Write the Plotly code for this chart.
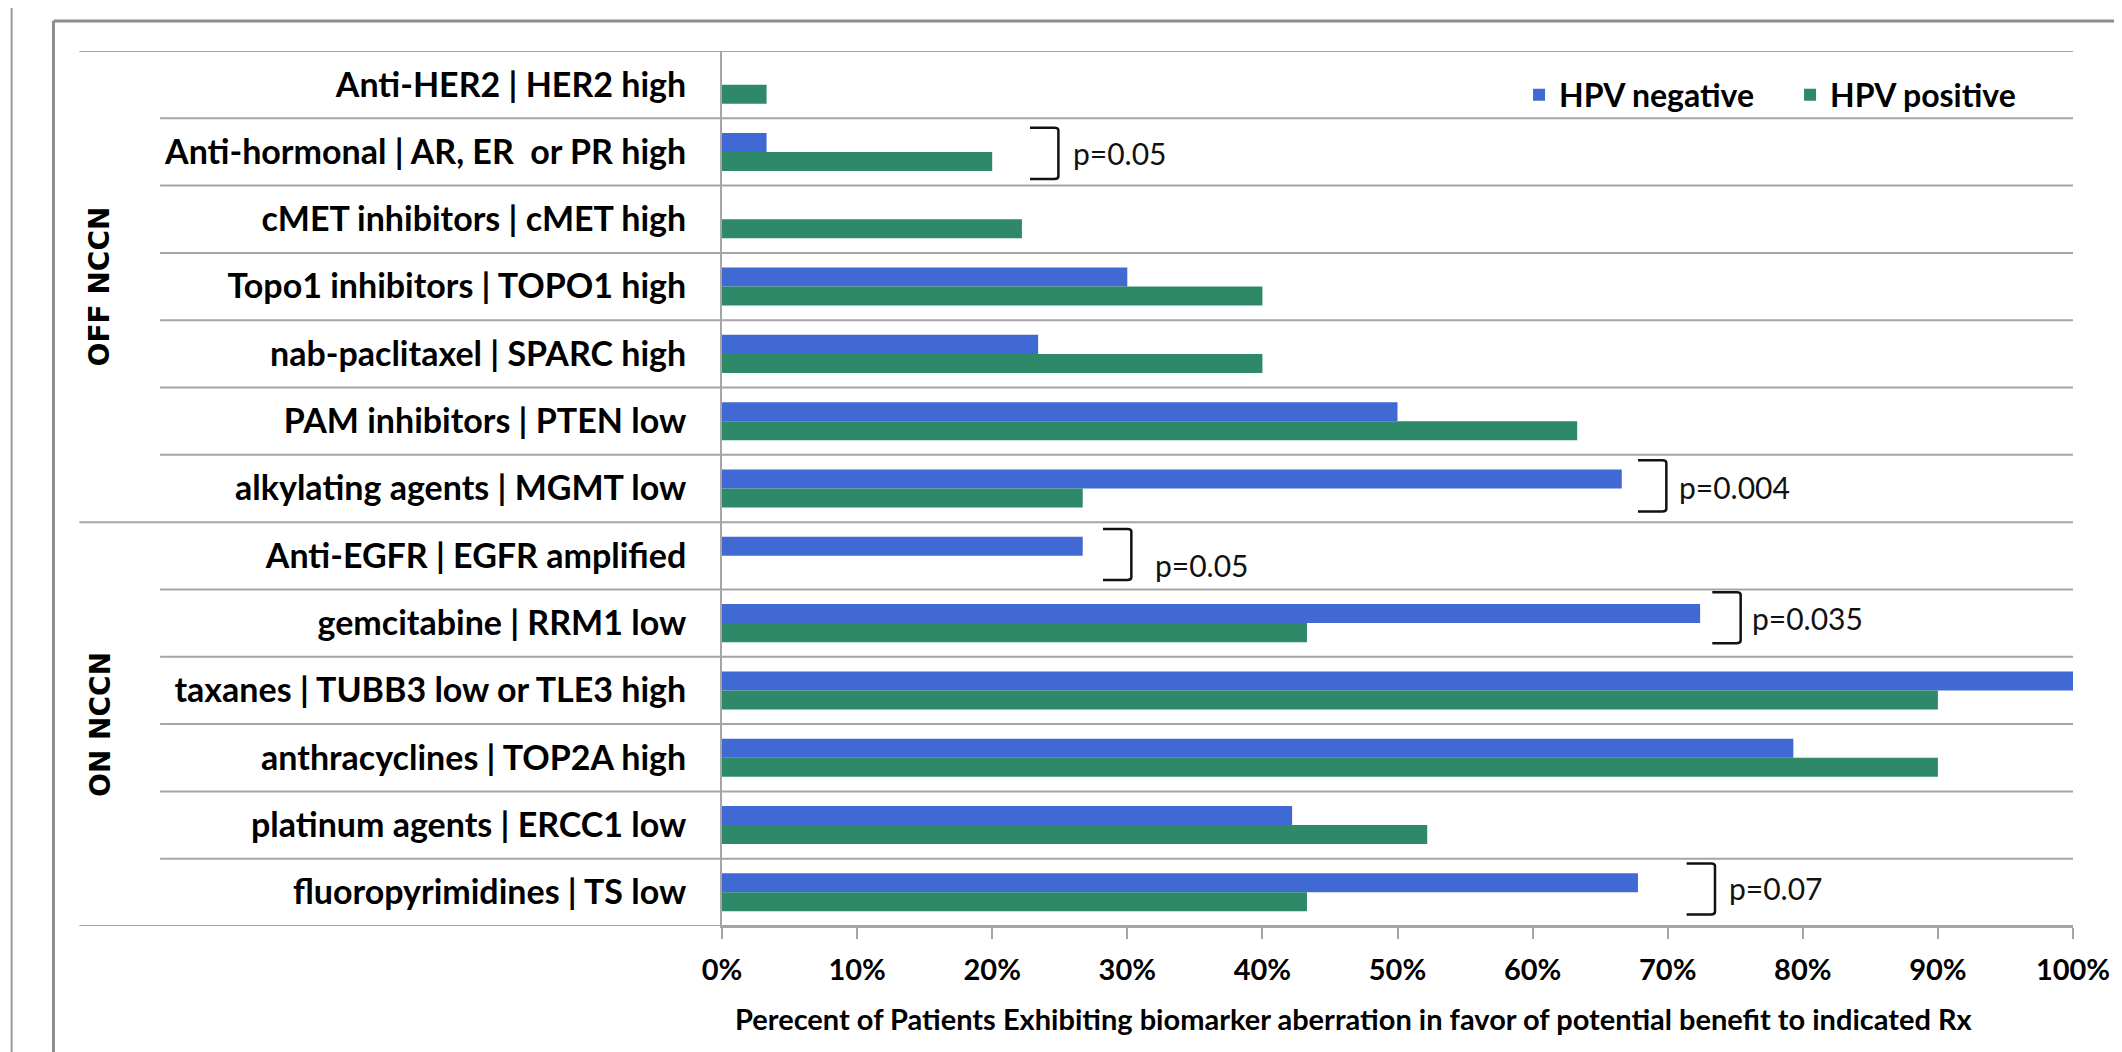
import plotly.graph_objects as go

# ---------------- data ----------------
categories = [
    "Anti-HER2 | HER2 high",
    "Anti-hormonal | AR, ER  or PR high",
    "cMET inhibitors | cMET high",
    "Topo1 inhibitors | TOPO1 high",
    "nab-paclitaxel | SPARC high",
    "PAM inhibitors | PTEN low",
    "alkylating agents | MGMT low",
    "Anti-EGFR | EGFR amplified",
    "gemcitabine | RRM1 low",
    "taxanes | TUBB3 low or TLE3 high",
    "anthracyclines | TOP2A high",
    "platinum agents | ERCC1 low",
    "fluoropyrimidines | TS low",
]
hpv_negative = [0, 3.3, 0, 30.0, 23.4, 50.0, 66.6, 26.7, 72.4, 100.0, 79.3, 42.2, 67.8]
hpv_positive = [3.3, 20.0, 22.2, 40.0, 40.0, 63.3, 26.7, 0, 43.3, 90.0, 90.0, 52.2, 43.3]
x_ticks = [0, 10, 20, 30, 40, 50, 60, 70, 80, 90, 100]
x_tick_labels = ["0%", "10%", "20%", "30%", "40%", "50%", "60%", "70%", "80%", "90%", "100%"]

groups = ["OFF NCCN", "ON NCCN"]
group_first = [0, 7]
group_last = [6, 12]

pval_rows = ["Anti-hormonal | AR, ER  or PR high", "alkylating agents | MGMT low",
             "Anti-EGFR | EGFR amplified", "gemcitabine | RRM1 low", "fluoropyrimidines | TS low"]
pval_labels = ["p=0.05", "p=0.004", "p=0.05", "p=0.035", "p=0.07"]

# annotation placement (layout only)
bracket_left = [22.8, 67.8, 28.2, 73.3, 71.4]
bracket_dy = [0.02, -0.04, -0.02, -0.08, -0.05]
text_left = [25.8, 70.7, 31.9, 76.1, 74.4]
text_dy = [0.02, -0.02, 0.13, -0.08, -0.06]

BLUE = "#4169D3"
GREEN = "#2E8968"
GRID = "#A5A5A5"

# page geometry (browser body has an 8px margin)
BODY = 8
W, H = 2122 - BODY, 1052 - BODY
L, R, T, B = 722, 2078, 51, 926     # plot area in page pixels
PW, PH = R - L, B - T

def px_to_paper(px):
    return (px - L) / PW

def py_to_paper(py):
    return 1 - (py - T) / PH

fig = go.Figure()
fig.add_trace(go.Bar(y=categories, x=hpv_negative, orientation="h", name="HPV negative",
                     marker=dict(color=BLUE, line=dict(width=0))))
fig.add_trace(go.Bar(y=categories, x=hpv_positive, orientation="h", name="HPV positive",
                     marker=dict(color=GREEN, line=dict(width=0))))

shapes = []
n = len(categories)
group_bounds = set([g - 0.5 for g in group_first] + [n - 0.5])
for k in range(n + 1):
    yb = k - 0.5
    x0 = px_to_paper(77) if yb in group_bounds else px_to_paper(158)
    shapes.append(dict(type="line", xref="paper", yref="y", x0=x0, x1=1.0, y0=yb, y1=yb,
                       line=dict(color=GRID, width=2), layer="below"))

# brackets
half = 0.38
for row, bl, dy in zip(pval_rows, bracket_left, bracket_dy):
    i = categories.index(row)
    yc = i + dy
    xr = bl + 2.1
    path = (f"M {bl},{yc - half} L {xr - 0.3},{yc - half} Q {xr},{yc - half} {xr},{yc - half + 0.04} "
            f"L {xr},{yc + half - 0.04} Q {xr},{yc + half} {xr - 0.3},{yc + half} L {bl},{yc + half}")
    shapes.append(dict(type="path", xref="x", yref="y", path=path,
                       line=dict(color="#111111", width=2.5)))

# outer frame pieces
shapes.append(dict(type="line", xref="paper", yref="paper",
                   x0=px_to_paper(51), x1=px_to_paper(51), y0=py_to_paper(21), y1=py_to_paper(1060),
                   line=dict(color="#8C8C8C", width=3)))
shapes.append(dict(type="line", xref="paper", yref="paper",
                   x0=px_to_paper(51), x1=px_to_paper(2130), y0=py_to_paper(21), y1=py_to_paper(21),
                   line=dict(color="#8C8C8C", width=3)))
shapes.append(dict(type="line", xref="paper", yref="paper",
                   x0=px_to_paper(9), x1=px_to_paper(9), y0=py_to_paper(0), y1=py_to_paper(1060),
                   line=dict(color="#9A9A9A", width=2)))

annotations = []
for row, tl, dy, lab in zip(pval_rows, text_left, text_dy, pval_labels):
    i = categories.index(row)
    annotations.append(dict(x=tl, y=i + dy, xref="x", yref="y", text=lab, showarrow=False,
                            xanchor="left", yanchor="middle",
                            font=dict(family="Lato", size=30, color="#111111")))

for g, a, b in zip(groups, group_first, group_last):
    annotations.append(dict(x=px_to_paper(97.5), y=(a + b) / 2, xref="paper", yref="y", text="<b>" + g + "</b>",
                            showarrow=False, textangle=-90, xanchor="center", yanchor="middle",
                            font=dict(family="DejaVu Sans", size=28, color="#000000")))

annotations.append(dict(x=px_to_paper(1356), y=py_to_paper(1018), xref="paper", yref="paper",
                        text="<b>Perecent of Patients Exhibiting biomarker aberration in favor of potential benefit to indicated Rx</b>",
                        showarrow=False, xanchor="center", yanchor="middle",
                        font=dict(family="Lato", size=29, color="#000000")))

fig.update_layout(
    width=W, height=H,
    margin=dict(l=L - BODY, r=W - (R - BODY), t=T - BODY, b=H - (B - BODY), pad=0),
    paper_bgcolor="white", plot_bgcolor="white",
    barmode="group", bargap=0.435, bargroupgap=0,
    showlegend=True,
    legend=dict(orientation="h", x=px_to_paper(1522), y=py_to_paper(95), xanchor="left", yanchor="middle",
                font=dict(family="Lato", size=32, color="#000000", weight="bold"), bgcolor="rgba(0,0,0,0)",
                traceorder="normal", entrywidth=226, entrywidthmode="pixels"),
    xaxis=dict(range=[0, 100], tickvals=x_ticks, ticktext=["<b>" + t + "</b>" for t in x_tick_labels],
               showgrid=False, zeroline=False, showline=True, linecolor=GRID, linewidth=2,
               ticks="outside", ticklen=11, tickwidth=2, tickcolor=GRID, ticklabelstandoff=6,
               tickfont=dict(family="Lato", size=29, color="#000000"), fixedrange=True),
    yaxis=dict(range=[n - 0.5, -0.5], type="category", categoryorder="array", categoryarray=categories,
               tickvals=categories, ticktext=["<b>" + c + "</b>" for c in categories],
               showgrid=False, zeroline=False, showline=True, linecolor=GRID, linewidth=2,
               ticks="", ticklabelstandoff=27,
               tickfont=dict(family="Lato", size=34, color="#000000"), fixedrange=True),
    shapes=shapes, annotations=annotations,
)

fig.write_html("out.html")
